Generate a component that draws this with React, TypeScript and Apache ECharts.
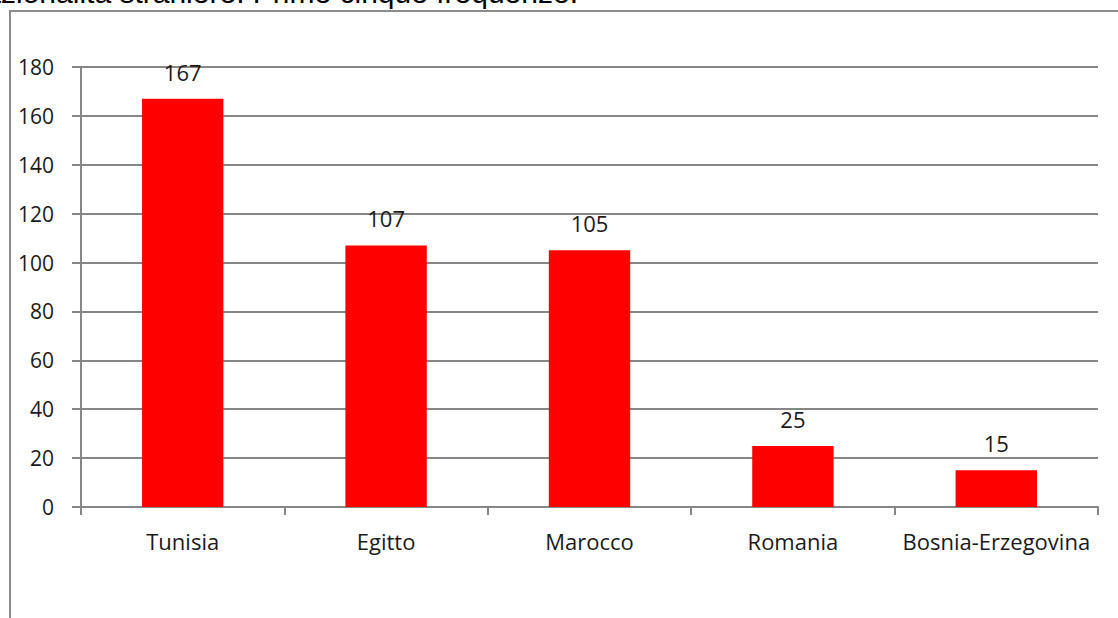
import React, { useEffect, useRef } from "react";
import * as echarts from "echarts";

const categories = ["Tunisia", "Egitto", "Marocco", "Romania", "Bosnia-Erzegovina"];
const values = [167, 107, 105, 25, 15];
const titleText = "Nazionalità straniere. Prime cinque frequenze.";

const GRAY = "#868686";
const FONT = "'Open Sans', 'Noto Sans', sans-serif";

export default function App() {
  const ref = useRef<HTMLDivElement>(null);
  useEffect(() => {
    if (!ref.current) return;
    const chart = echarts.init(ref.current, undefined, { renderer: "svg" });
    chart.setOption({
      animation: false,
      backgroundColor: "#ffffff",
      grid: { left: 81, right: 20, top: 67, bottom: 111, containLabel: false },
      graphic: [
        {
          type: "rect",
          shape: { x: 10, y: 11, width: 1300, height: 800 },
          style: { fill: "none", stroke: "#8c8c8c", lineWidth: 2 },
          silent: true,
        },
        {
          type: "text",
          x: 578,
          y: 7,
          style: {
            text: titleText,
            font: "30px 'Liberation Sans', Arial, sans-serif",
            fill: "#000",
            align: "right",
            verticalAlign: "bottom",
          },
          silent: true,
        },
      ],
      xAxis: {
        type: "category",
        data: categories,
        axisLine: { show: true, lineStyle: { color: GRAY, width: 2 } },
        axisTick: { show: true, length: 8, lineStyle: { color: GRAY, width: 2 }, alignWithLabel: false },
        axisLabel: { color: "#1a1a1a", fontSize: 22, fontFamily: FONT, margin: 23, interval: 0 },
        splitLine: { show: false },
      },
      yAxis: {
        type: "value",
        min: 0,
        max: 180,
        interval: 20,
        axisLine: { show: true, lineStyle: { color: GRAY, width: 2 } },
        axisTick: { show: true, length: 9, inside: false, lineStyle: { color: GRAY, width: 2 } },
        axisLabel: { color: "#1a1a1a", fontSize: 21, fontFamily: FONT, margin: 27 },
        splitLine: { show: true, lineStyle: { color: GRAY, width: 2 } },
      },
      series: [
        {
          type: "bar",
          data: values,
          barWidth: "40%",
          itemStyle: { color: "#ff0000" },
          label: {
            show: true,
            position: "top",
            distance: 16,
            color: "#1a1a1a",
            fontSize: 22,
            fontFamily: FONT,
          },
        },
      ],
    });
    return () => chart.dispose();
  }, []);
  return (
    <div
      ref={ref}
      style={{ position: "fixed", left: 0, top: 0, width: 1118, height: 618 }}
    />
  );
}
